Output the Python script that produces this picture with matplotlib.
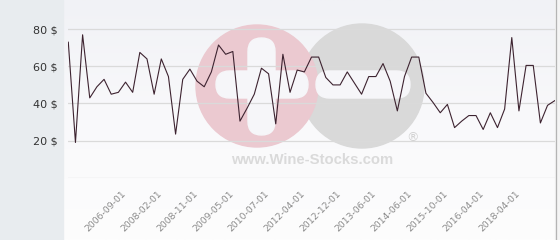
import numpy as np
from matplotlib import pyplot as plt
from matplotlib.patches import Circle, Rectangle, FancyBboxPatch
from matplotlib.colors import LinearSegmentedColormap
from matplotlib.transforms import ScaledTranslation

# price per bottle, one value per sale
prices = [73, 19, 77, 43, 49, 53, 45, 46, 51.5, 46,
          67.5, 64, 45, 64, 54.5, 23.5, 53, 58.5, 52, 49,
          57, 71.5, 66.5, 68, 30.5, 37.5, 45, 59, 56, 29,
          66.5, 46, 58, 57, 65, 65, 54, 50, 50, 57,
          51, 45, 54.5, 54.5, 61.5, 52, 36, 54.5, 65, 65,
          45.5, 40.5, 35, 39.5, 27, 30.5, 33.5, 33.5, 26, 35,
          27, 37, 75.5, 36, 60.5, 60.5, 29.5, 39, 41.5]

date_labels = ["2006-09-01", "2008-02-01", "2008-11-01", "2009-05-01",
               "2010-07-01", "2012-04-01", "2012-12-01", "2013-06-01",
               "2014-06-01", "2015-10-01", "2016-04-01", "2018-04-01"]
label_first = 8
label_step = 5

y_ticks = [0, 20, 40, 60, 80]
y_labels = ["", "20 $", "40 $", "60 $", "80 $"]

W, H = 560, 240
fig = plt.figure(figsize=(W / 100, H / 100), dpi=100)

# background layer in pixel coords
bg = fig.add_axes([0, 0, 1, 1], zorder=0)
bg.set_xlim(0, W)
bg.set_ylim(H, 0)
bg.axis('off')

grad = np.linspace(0, 1, 100).reshape(-1, 1)
cmap = LinearSegmentedColormap.from_list('bgc', ['#f1f2f6', '#f9f9fb', '#fdfdfd'])
bg.imshow(grad, cmap=cmap, extent=(63, 555, H, 0), aspect='auto', zorder=0)
bg.add_patch(Rectangle((0, 0), 63, H, color='#e8ecef', zorder=1))
bg.add_patch(Rectangle((555, 0), 5, H, color='#f4f4f4', zorder=1))
bg.plot([555.5, 555.5], [0, H], color='#b4b4b4', lw=0.9, zorder=2)

# watermark
bg.add_patch(Circle((362, 86), 62, color='#d9d9d9', zorder=2))
bg.add_patch(Circle((257, 86), 61, color='#ebc9d0', zorder=3))
pill = '#f6f6f9'
bg.add_patch(FancyBboxPatch((216, 71), 92, 27, boxstyle='round,pad=0,rounding_size=13.5',
                            color=pill, zorder=4))
bg.add_patch(FancyBboxPatch((248, 38), 27, 97, boxstyle='round,pad=0,rounding_size=13.5',
                            color=pill, zorder=4))
bg.add_patch(FancyBboxPatch((316, 71), 94, 27, boxstyle='round,pad=0,rounding_size=13.5',
                            color=pill, zorder=4))
bg.text(413, 138, '®', fontsize=9, color='#d2d2d2', ha='center', va='center', zorder=4)
bg.text(312, 160, 'www.Wine-Stocks.com', fontsize=10.7, fontweight='bold',
        family='Liberation Sans', color='#dadada', ha='center', va='center', zorder=4)

# chart
x0, x1 = 68.3, 554.7
y_top, y_zero = 0, 178.3
ax = fig.add_axes([x0 / W, 1 - y_zero / H, (x1 - x0) / W, (y_zero - y_top) / H], zorder=1)
ax.patch.set_alpha(0)

xs = np.arange(len(prices))
ax.plot(xs, prices, color='#3d2330', lw=0.8, zorder=3)

ax.set_xlim(0, len(prices) - 1)
ax.set_ylim(-0.3, 80 + 29.3 / 1.862)

ax.set_yticks(y_ticks)
ax.set_yticklabels(y_labels, fontsize=8, color='#333333')
ax.grid(axis='y', color='#dadada', lw=0.9)
ax.set_axisbelow(True)

ax.set_xticks(range(label_first, label_first + label_step * len(date_labels), label_step))
ax.set_xticklabels(date_labels, fontsize=6.7, color='#8a8a8a', rotation=45,
                   ha='right', va='top', rotation_mode='anchor')
ax.tick_params(axis='x', length=0, pad=8)
ax.tick_params(axis='y', length=0, pad=8)
shift = ScaledTranslation(-4 / 100, 0, fig.dpi_scale_trans)
for lbl in ax.get_xticklabels():
    lbl.set_transform(lbl.get_transform() + shift)

for s in ax.spines.values():
    s.set_visible(False)

fig.savefig('out.png', dpi=100)
